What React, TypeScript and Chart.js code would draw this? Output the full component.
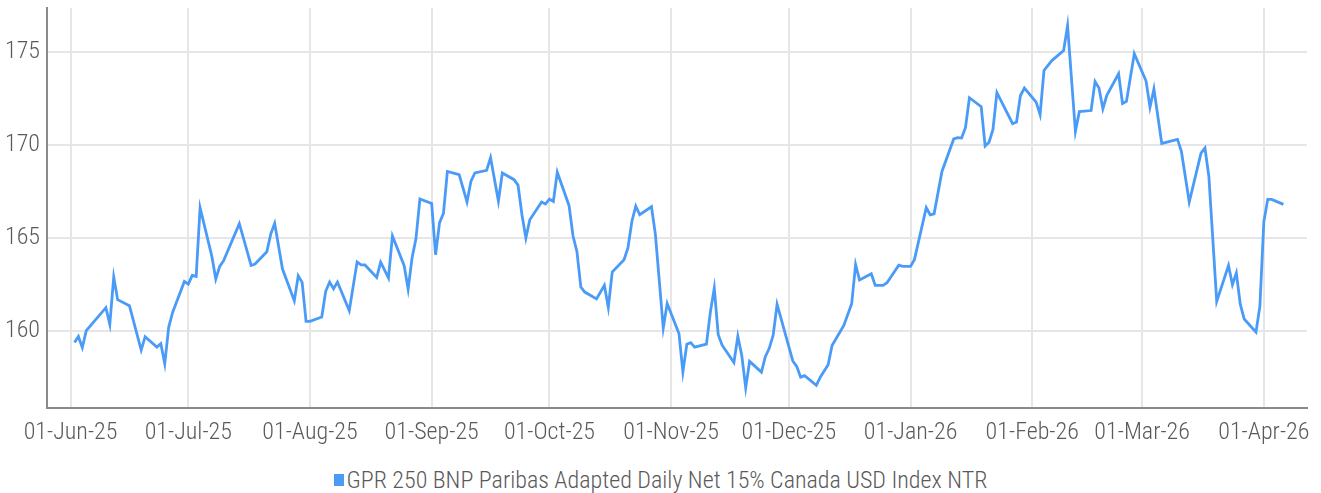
import { useEffect, useRef } from 'react';
import { Chart, registerables } from 'chart.js';

Chart.register(...registerables);

const seriesLabel = 'GPR 250 BNP Paribas Adapted Daily Net 15% Canada USD Index NTR';

const dates = [
  '2025-06-02', '2025-06-03', '2025-06-04', '2025-06-05', '2025-06-10', '2025-06-11', '2025-06-12', '2025-06-13',
  '2025-06-16', '2025-06-19', '2025-06-20', '2025-06-23', '2025-06-24', '2025-06-25', '2025-06-26', '2025-06-27',
  '2025-06-30', '2025-07-01', '2025-07-02', '2025-07-03', '2025-07-04', '2025-07-07', '2025-07-08', '2025-07-09',
  '2025-07-10', '2025-07-14', '2025-07-17', '2025-07-18', '2025-07-21', '2025-07-22', '2025-07-23', '2025-07-25',
  '2025-07-28', '2025-07-29', '2025-07-30', '2025-07-31', '2025-08-01', '2025-08-04', '2025-08-05', '2025-08-06',
  '2025-08-07', '2025-08-08', '2025-08-11', '2025-08-13', '2025-08-14', '2025-08-15', '2025-08-18', '2025-08-19',
  '2025-08-21', '2025-08-22', '2025-08-25', '2025-08-26', '2025-08-27', '2025-08-28', '2025-08-29', '2025-09-01',
  '2025-09-02', '2025-09-03', '2025-09-04', '2025-09-05', '2025-09-08', '2025-09-10', '2025-09-11', '2025-09-12',
  '2025-09-15', '2025-09-16', '2025-09-18', '2025-09-19', '2025-09-22', '2025-09-23', '2025-09-24', '2025-09-25',
  '2025-09-26', '2025-09-29', '2025-09-30', '2025-10-01', '2025-10-02', '2025-10-03', '2025-10-06', '2025-10-07',
  '2025-10-08', '2025-10-09', '2025-10-10', '2025-10-13', '2025-10-15', '2025-10-16', '2025-10-17', '2025-10-20',
  '2025-10-21', '2025-10-22', '2025-10-23', '2025-10-24', '2025-10-27', '2025-10-28', '2025-10-30', '2025-10-31',
  '2025-11-03', '2025-11-04', '2025-11-05', '2025-11-06', '2025-11-07', '2025-11-10', '2025-11-11', '2025-11-12',
  '2025-11-13', '2025-11-14', '2025-11-17', '2025-11-18', '2025-11-19', '2025-11-20', '2025-11-21', '2025-11-24',
  '2025-11-25', '2025-11-26', '2025-11-27', '2025-11-28', '2025-12-02', '2025-12-03', '2025-12-04', '2025-12-05',
  '2025-12-08', '2025-12-09', '2025-12-11', '2025-12-12', '2025-12-15', '2025-12-17', '2025-12-18', '2025-12-19',
  '2025-12-22', '2025-12-23', '2025-12-25', '2025-12-26', '2025-12-29', '2025-12-30', '2026-01-01', '2026-01-02',
  '2026-01-05', '2026-01-06', '2026-01-07', '2026-01-09', '2026-01-12', '2026-01-13', '2026-01-14', '2026-01-15',
  '2026-01-16', '2026-01-19', '2026-01-20', '2026-01-21', '2026-01-22', '2026-01-23', '2026-01-27', '2026-01-28',
  '2026-01-29', '2026-01-30', '2026-02-02', '2026-02-03', '2026-02-04', '2026-02-06', '2026-02-09', '2026-02-10',
  '2026-02-12', '2026-02-13', '2026-02-16', '2026-02-17', '2026-02-18', '2026-02-19', '2026-02-20', '2026-02-23',
  '2026-02-24', '2026-02-25', '2026-02-27', '2026-03-02', '2026-03-03', '2026-03-04', '2026-03-06', '2026-03-10',
  '2026-03-11', '2026-03-13', '2026-03-16', '2026-03-17', '2026-03-18', '2026-03-20', '2026-03-23', '2026-03-24',
  '2026-03-25', '2026-03-26', '2026-03-27', '2026-03-30', '2026-03-31', '2026-04-01', '2026-04-02', '2026-04-03',
  '2026-04-06',
];

const values = [
  159.37, 159.69, 159.09, 160.0, 161.24, 160.34, 162.89, 161.67,
  161.35, 158.96, 159.68, 159.12, 159.3, 158.22, 160.18, 160.98,
  162.65, 162.51, 162.98, 162.92, 166.62, 164.0, 162.78, 163.46,
  163.77, 165.76, 163.51, 163.59, 164.25, 165.2, 165.78, 163.32,
  161.61, 162.96, 162.6, 160.5, 160.5, 160.74, 162.12, 162.62,
  162.26, 162.62, 161.08, 163.7, 163.54, 163.54, 162.87, 163.69,
  162.84, 165.1, 163.5, 162.24, 163.91, 164.96, 167.09, 166.85,
  164.09, 165.81, 166.32, 168.57, 168.4, 166.93, 168.04, 168.49,
  168.63, 169.32, 166.98, 168.49, 168.13, 167.84, 166.24, 164.99,
  165.97, 166.93, 166.82, 167.09, 166.96, 168.53, 166.73, 165.11,
  164.27, 162.35, 162.08, 161.71, 162.44, 161.25, 163.16, 163.82,
  164.45, 165.88, 166.7, 166.24, 166.67, 165.17, 160.15, 161.46,
  159.85, 157.78, 159.27, 159.36, 159.12, 159.28, 161.0, 162.29,
  159.78, 159.22, 158.29, 159.7, 158.67, 156.93, 158.35, 157.77,
  158.6, 159.05, 159.76, 161.42, 158.37, 158.08, 157.5, 157.58,
  157.06, 157.5, 158.17, 159.2, 160.28, 161.45, 163.56, 162.73,
  163.06, 162.44, 162.44, 162.58, 163.53, 163.46, 163.46, 163.84,
  166.62, 166.24, 166.29, 168.57, 170.32, 170.39, 170.37, 170.94,
  172.54, 172.06, 169.94, 170.15, 170.83, 172.81, 171.14, 171.23,
  172.66, 173.06, 172.3, 171.63, 174.01, 174.54, 175.08, 176.42,
  170.73, 171.79, 171.85, 173.41, 173.06, 171.95, 172.67, 173.83,
  172.23, 172.34, 174.91, 173.44, 172.03, 173.01, 170.08, 170.3,
  169.65, 166.93, 169.56, 169.83, 168.3, 161.58, 163.51, 162.48,
  163.11, 161.43, 160.63, 159.92, 161.33, 165.86, 167.07, 167.07,
  166.8,
];

const tickDates = [
  '2025-06-01', '2025-07-01', '2025-08-01', '2025-09-01', '2025-10-01', '2025-11-01',
  '2025-12-01', '2026-01-01', '2026-02-01', '2026-03-01', '2026-04-01',
];
const tickLabels = [
  '01-Jun-25', '01-Jul-25', '01-Aug-25', '01-Sep-25', '01-Oct-25', '01-Nov-25',
  '01-Dec-25', '01-Jan-26', '01-Feb-26', '01-Mar-26', '01-Apr-26',
];
const yTicks = [160, 165, 170, 175];

const axisStart = '2025-05-26';
const axisEnd = '2026-04-12';
const yMin = 155.84;
const yMax = 177.37;

const ORIGIN = Date.UTC(2025, 5, 1);
function dayOf(s: string): number {
  const [y, m, d] = s.split('-').map(Number);
  return (Date.UTC(y, m - 1, d) - ORIGIN) / 86400000;
}

const FONT = "'Roboto Condensed', 'Liberation Sans Narrow', 'DejaVu Sans Condensed', sans-serif";
const TEXT = '#5a5a5a';
const LINE = '#4a9bf7';

export default function App() {
  const ref = useRef<HTMLCanvasElement | null>(null);

  useEffect(() => {
    document.body.style.margin = '0';
    const canvas = ref.current;
    if (!canvas) return;
    const points = dates.map((d, i) => ({ x: dayOf(d), y: values[i] }));
    const chart = new Chart(canvas, {
      type: 'line',
      data: {
        datasets: [
          {
            label: seriesLabel,
            data: points,
            borderColor: LINE,
            backgroundColor: LINE,
            borderWidth: 2.8,
            pointRadius: 0,
            tension: 0,
          },
        ],
      },
      options: {
        animation: false,
        responsive: false,
        maintainAspectRatio: false,
        layout: { padding: { left: 0, right: 14, top: 8, bottom: 0 } },
        plugins: {
          tooltip: { enabled: false },
          legend: { display: false },
        },
        scales: {
          x: {
            type: 'linear',
            min: dayOf(axisStart),
            max: dayOf(axisEnd),
            afterBuildTicks: (axis: any) => {
              axis.ticks = tickDates.map((d) => ({ value: dayOf(d) }));
            },
            afterFit: (axis: any) => {
              axis.height = 54;
              axis.paddingLeft = 0;
              axis.paddingRight = 0;
            },
            ticks: {
              autoSkip: false,
              maxRotation: 0,
              minRotation: 0,
              padding: 11,
              color: TEXT,
              font: { family: FONT, size: 24, weight: 300 },
              callback: (_v: any, i: number) => tickLabels[i],
            },
            grid: { color: '#e6e6e6', lineWidth: 2, drawTicks: false },
            border: { color: '#8a8a8a', width: 2 },
          },
          y: {
            type: 'linear',
            min: yMin,
            max: yMax,
            afterBuildTicks: (axis: any) => {
              axis.ticks = yTicks.map((v) => ({ value: v }));
            },
            afterFit: (axis: any) => {
              axis.width = 47;
              axis.paddingTop = 0;
              axis.paddingBottom = 0;
            },
            ticks: {
              padding: 7,
              color: TEXT,
              font: { family: FONT, size: 24, weight: 300 },
              callback: (v: any) => String(v),
            },
            grid: { color: '#e6e6e6', lineWidth: 2, drawTicks: false },
            border: { color: '#8a8a8a', width: 2 },
          },
        },
      },
    });
    return () => chart.destroy();
  }, []);

  return (
    <div style={{ position: 'relative', width: 1321, height: 493 }}>
      <canvas ref={ref} width={1321} height={462} style={{ display: 'block' }} />
      <div
        style={{
          position: 'absolute',
          left: 0,
          top: 467,
          width: 1321,
          height: 26,
          display: 'flex',
          justifyContent: 'center',
          alignItems: 'center',
          fontFamily: FONT,
          fontWeight: 300,
          fontSize: 24,
          color: TEXT,
          whiteSpace: 'nowrap',
        }}
      >
        <span style={{ display: 'inline-block', width: 10, height: 12, background: LINE, marginRight: 3 }} />
        <span>{seriesLabel}</span>
      </div>
    </div>
  );
}
